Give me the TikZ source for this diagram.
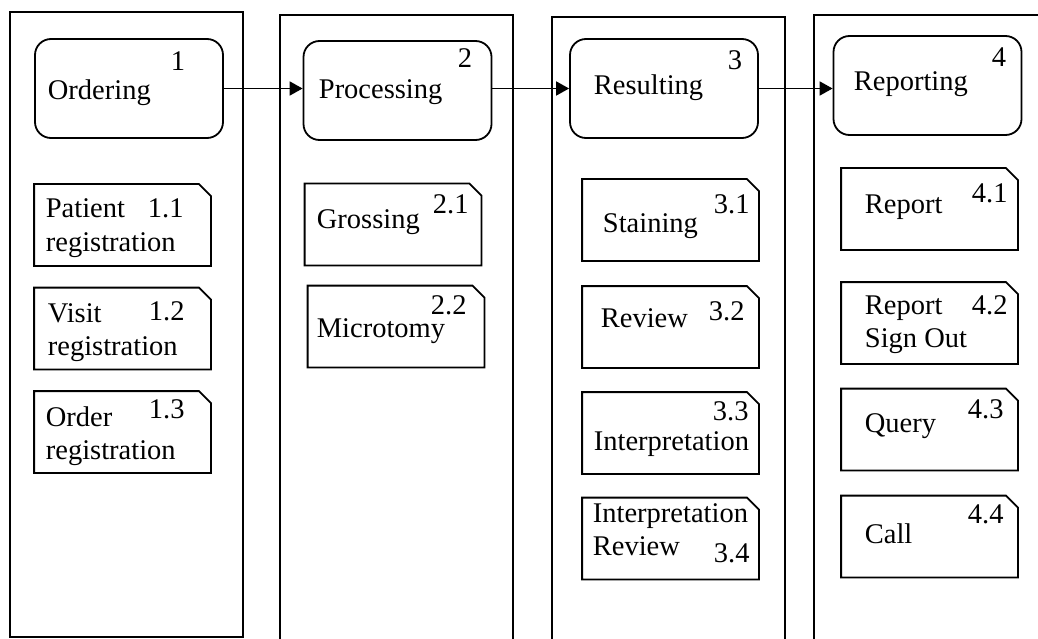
\documentclass[tikz,border=0pt]{standalone}
\usepackage{fontspec}
\setmainfont{Liberation Serif}
\usetikzlibrary{arrows.meta}

\begin{document}
\begin{tikzpicture}[x=1pt, y=-1pt, line width=1.8pt,
    font=\fontsize{28.5}{33}\selectfont,
    lane/.style={draw, inner sep=0pt},
    phase/.style={draw, rounded corners=16pt, inner sep=0pt, minimum width=188pt, minimum height=99pt},
    task/.style={inner sep=0pt, minimum width=175pt, minimum height=80pt,
        append after command={\pgfextra{
            \draw (\tikzlastnode.south west) -- (\tikzlastnode.north west)
                -- ([xshift=-12pt]\tikzlastnode.north east)
                -- ([yshift=-12pt]\tikzlastnode.north east)
                -- (\tikzlastnode.south east) -- cycle;}}},
    txt/.style={anchor=base west, inner sep=0pt, align=left},
    flow/.style={-{Triangle[length=13pt, width=14pt]}}]
        \useasboundingbox (0,0) rectangle (1038,639);

        % Lanes
        \node[lane, minimum width=233pt, minimum height=625pt] (L1) at (126.5, 324.5) {};
        \node[lane, minimum width=233pt, minimum height=685pt] (L2) at (396.5, 357.5) {};
        \node[lane, minimum width=233pt, minimum height=683pt] (L3) at (668.5, 358.5) {};
        \node[lane, minimum width=286pt, minimum height=685pt] (L4) at (957, 357.5) {};

        % Phases
        \node[phase] (P1) at (129, 88.5) {};
        \node[phase] (P2) at (397.5, 90.5) {};
        \node[phase] (P3) at (664, 88.5) {};
        \node[phase] (P4) at (927.5, 85.5) {};

        \node[txt] (P1name) at (47, 100) {Ordering};
        \node[txt] (P1no) at (170, 71) {1};
        \node[txt] (P2name) at (318, 99) {Processing};
        \node[txt] (P2no) at (457, 68) {2};
        \node[txt] (P3name) at (593, 95) {Resulting};
        \node[txt] (P3no) at (727, 70) {3};
        \node[txt] (P4name) at (853, 91) {Reporting};
        \node[txt] (P4no) at (991, 67) {4};

        % Verbindungen
        \draw[flow] (P1.east) -- (P1.east -| P2.west);
        \draw[flow] (P2.east |- P1.east) -- (P3.west |- P1.east);
        \draw[flow] (P3.east) -- (P3.east -| P4.west);

        % Ordering
        \node[task] (T11) at (122.5, 225) {};
        \node[task] (T12) at (122.5, 328.5) {};
        \node[task] (T13) at (122.5, 432) {};
        \node[txt] (T11name) at (45, 251) {Patient\\registration};
        \node[txt] (T11no) at (147, 218) {1.1};
        \node[txt] (T12name) at (47, 355) {Visit\\registration};
        \node[txt] (T12no) at (148, 320) {1.2};
        \node[txt] (T13name) at (45, 459) {Order\\registration};
        \node[txt] (T13no) at (148, 418) {1.3};

        % Processing
        \node[task] (T21) at (393, 224.5) {};
        \node[task] (T22) at (396, 326.5) {};
        \node[txt] (T21name) at (316, 228) {Grossing};
        \node[txt] (T21no) at (432, 213) {2.1};
        \node[txt] (T22name) at (316, 337) {Microtomy};
        \node[txt] (T22no) at (430, 314) {2.2};

        % Resulting
        \node[task] (T31) at (670.5, 220) {};
        \node[task] (T32) at (670.5, 327) {};
        \node[task] (T33) at (670.5, 433) {};
        \node[task] (T34) at (670.5, 538.5) {};
        \node[txt] (T31name) at (602, 233) {Staining};
        \node[txt] (T31no) at (713, 213) {3.1};
        \node[txt] (T32name) at (600, 327) {Review};
        \node[txt] (T32no) at (708, 320) {3.2};
        \node[txt] (T33name) at (593, 450) {Interpretation};
        \node[txt] (T33no) at (712, 420) {3.3};
        \node[txt] (T34name) at (592, 555) {Interpretation\\Review};
        \node[txt] (T34no) at (713, 562) {3.4};

        % Reporting
        \node[task] (T41) at (929.5, 209) {};
        \node[task] (T42) at (929.5, 323) {};
        \node[task] (T43) at (929.5, 429.5) {};
        \node[task] (T44) at (929.5, 536.5) {};
        \node[txt] (T41name) at (864, 213) {Report};
        \node[txt] (T41no) at (971, 202) {4.1};
        \node[txt] (T42name) at (864, 347) {Report\\Sign Out};
        \node[txt] (T42no) at (971, 314) {4.2};
        \node[txt] (T43name) at (864, 432) {Query};
        \node[txt] (T43no) at (967, 418) {4.3};
        \node[txt] (T44name) at (864, 543) {Call};
        \node[txt] (T44no) at (967, 523) {4.4};

    \end{tikzpicture}
\end{document}
